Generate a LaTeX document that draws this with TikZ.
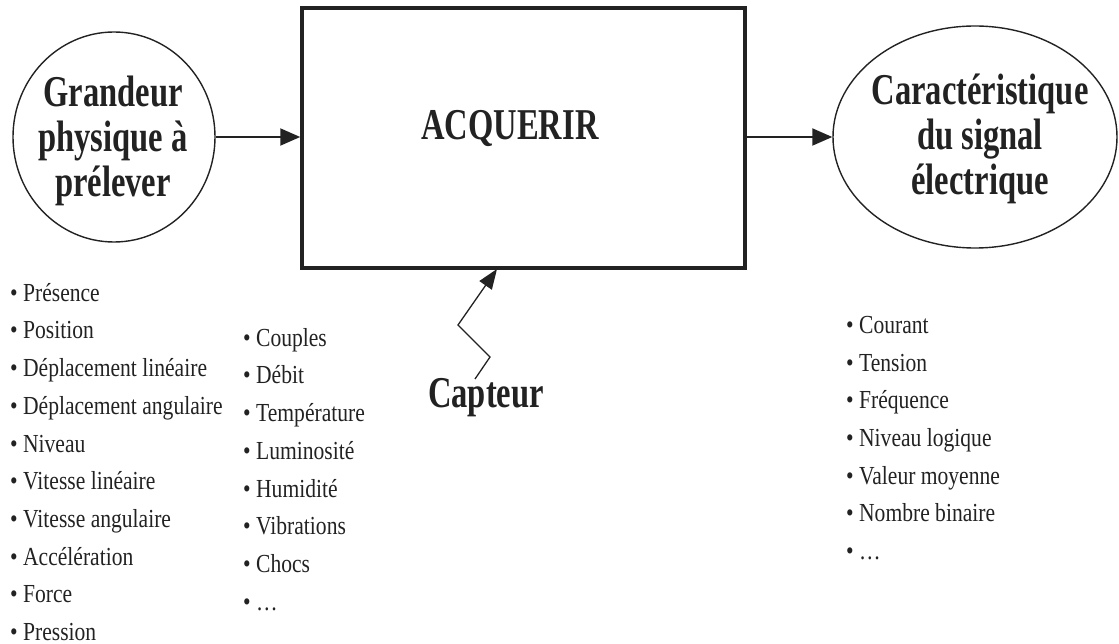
\documentclass[tikz,border=0pt]{standalone}
\usepackage{fontspec}
\setmainfont{Liberation Serif}
\newfontfamily\condbig[FakeStretch=0.74]{Liberation Serif}
\newfontfamily\condsmall[FakeStretch=0.83]{Liberation Serif}
\usetikzlibrary{shapes.geometric,arrows.meta}
\definecolor{ink}{HTML}{222222}
\begin{document}
\begin{tikzpicture}[x=1pt,y=-1pt,
  bigtxt/.style={font=\condbig\bfseries\fontsize{44}{45}\selectfont, text=ink, align=center, inner sep=0pt},
  listtxt/.style={font=\condsmall\fontsize{26}{37.7}\selectfont, text=ink, align=left, anchor=north west, inner sep=0pt},
  bubble/.style={draw=ink, line width=1.4pt, ellipse, inner sep=0pt},
  flow/.style={draw=ink, line width=2pt, -{Triangle[length=20pt,width=17pt]}},
  blockbox/.style={draw=ink, line width=3.5pt, rectangle, inner sep=0pt}
]
\useasboundingbox (0,0) rectangle (1119,644);
% main nodes
\node[bubble, minimum width=202pt, minimum height=210pt] (gp) at (114,137) {};
\node[bigtxt] (gptxt) at (113,141) {Grandeur\\physique à\\prélever};
\node[blockbox, minimum width=443pt, minimum height=260pt] (acq) at (523.5,138) {};
\node[bigtxt] (acqtxt) at (510,129) {ACQUERIR};
\node[bubble, minimum width=284pt, minimum height=222pt] (sig) at (975,137) {};
\node[bigtxt] (sigtxt) at (980,139) {Caractéristique\\du signal\\électrique};
% arrows
\draw[flow] (gp.east) -- (acq.west |- gp.east);
\draw[flow] (acq.east |- sig.west) -- (sig.west);
% capteur
\node[bigtxt] (cap) at (486,398) {Capteur};
\coordinate (z1) at (475,379);
\coordinate (z2) at (490,357);
\coordinate (z3) at (458,325);
\coordinate (tip) at (497,269);
\draw[ink, line width=1.3pt, -{Triangle[length=20pt,width=15pt]}] (z1) -- (z2) -- (z3) -- (tip);
% lists
\node[listtxt] (l1) at (10,283) {• Présence\\• Position\\• Déplacement linéaire\\• Déplacement angulaire\\• Niveau\\• Vitesse linéaire\\• Vitesse angulaire\\• Accélération\\• Force\\• Pression};
\node[listtxt] (l2) at (243,328) {• Couples\\• Débit\\• Température\\• Luminosité\\• Humidité\\• Vibrations\\• Chocs\\• …};
\node[listtxt] (l3) at (846,316) {• Courant\\• Tension\\• Fréquence\\• Niveau logique\\• Valeur moyenne\\• Nombre binaire\\• …};
\end{tikzpicture}
\end{document}
